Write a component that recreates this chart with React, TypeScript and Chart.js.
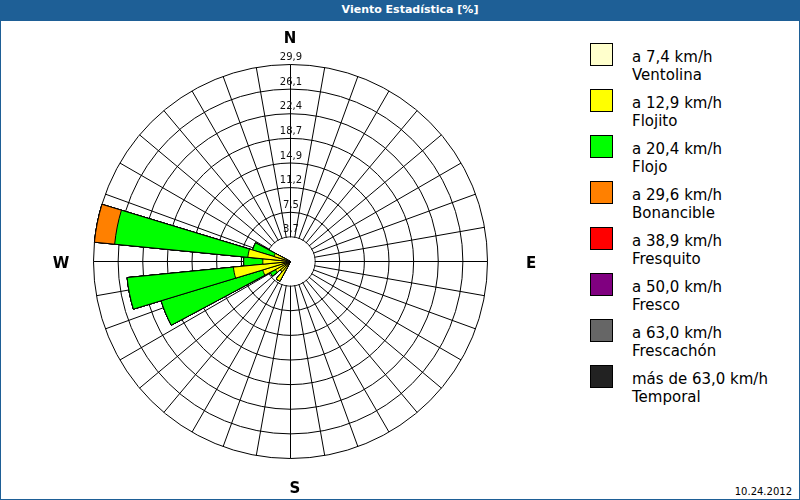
import React, { useEffect, useRef } from 'react';
import { Chart, registerables } from 'chart.js';

Chart.register(...registerables);

// 32 compass directions, clockwise from North
const directions = [
  'N', 'NbE', 'NNE', 'NEbN', 'NE', 'NEbE', 'ENE', 'EbN',
  'E', 'EbS', 'ESE', 'SEbE', 'SE', 'SEbS', 'SSE', 'SbE',
  'S', 'SbW', 'SSW', 'SWbS', 'SW', 'SWbW', 'WSW', 'WbS',
  'W', 'WbN', 'WNW', 'NWbW', 'NW', 'NWbN', 'NNW', 'NbW',
];

// 36 grid spokes (every 10 degrees)
const spokeLabels = [
  '0°', '10°', '20°', '30°', '40°', '50°', '60°', '70°', '80°',
  '90°', '100°', '110°', '120°', '130°', '140°', '150°', '160°', '170°',
  '180°', '190°', '200°', '210°', '220°', '230°', '240°', '250°', '260°',
  '270°', '280°', '290°', '300°', '310°', '320°', '330°', '340°', '350°',
];

const ringLabels = ['3,7', '7,5', '11,2', '14,9', '18,7', '22,4', '26,1', '29,9'];
const compassLabels = ['N', 'E', 'S', 'W'];
const compassSpokes = [0, 9, 18, 27];
const scaleMax = 29.88;
const ringStep = 3.735;

const classNames = [
  'a 7,4 km/h', 'a 12,9 km/h', 'a 20,4 km/h', 'a 29,6 km/h',
  'a 38,9 km/h', 'a 50,0 km/h', 'a 63,0 km/h', 'más de 63,0 km/h',
];
const classSubtitles = [
  'Ventolina', 'Flojito', 'Flojo', 'Bonancible',
  'Fresquito', 'Fresco', 'Frescachón', 'Temporal',
];
const classColors = [
  '#FFFFCC', '#FFFF00', '#00FF00', '#FF8000',
  '#FF0000', '#800080', '#666666', '#222222',
];

// percentage per direction for each wind class (not cumulative)
const ventolina = [
  0, 0, 0, 0, 0, 0, 0, 0,
  0, 0, 0, 0, 0, 0, 0, 0,
  0, 0, 0, 0.2, 0.2, 0.3, 0.4, 0.5,
  0.4, 0.5, 0.3, 0, 0, 0, 0, 0,
];
const flojito = [
  0, 0, 0, 0, 0, 0, 0, 0,
  0, 0, 0, 0, 0, 0, 0, 0,
  0, 0, 0, 3.2, 1.8, 2.3, 4.0, 8.2,
  3.8, 6.0, 2.3, 0, 0, 0, 0, 0,
];
const flojo = [
  0, 0, 0, 0, 0, 0, 0, 0,
  0, 0, 0, 0, 0, 0, 0, 0,
  0, 0, 0, 0, 0, 0.9, 16.1, 16.2,
  2.9, 20.3, 3.4, 0, 0, 0, 0, 0,
];
const bonancible = [
  0, 0, 0, 0, 0, 0, 0, 0,
  0, 0, 0, 0, 0, 0, 0, 0,
  0, 0, 0, 0, 0, 0, 0, 0,
  0, 3.08, 0, 0, 0, 0, 0, 0,
];
const fresquito = [
  0, 0, 0, 0, 0, 0, 0, 0, 0, 0, 0, 0, 0, 0, 0, 0,
  0, 0, 0, 0, 0, 0, 0, 0, 0, 0, 0, 0, 0, 0, 0, 0,
];
const fresco = [
  0, 0, 0, 0, 0, 0, 0, 0, 0, 0, 0, 0, 0, 0, 0, 0,
  0, 0, 0, 0, 0, 0, 0, 0, 0, 0, 0, 0, 0, 0, 0, 0,
];
const frescachon = [
  0, 0, 0, 0, 0, 0, 0, 0, 0, 0, 0, 0, 0, 0, 0, 0,
  0, 0, 0, 0, 0, 0, 0, 0, 0, 0, 0, 0, 0, 0, 0, 0,
];
const temporal = [
  0, 0, 0, 0, 0, 0, 0, 0, 0, 0, 0, 0, 0, 0, 0, 0,
  0, 0, 0, 0, 0, 0, 0, 0, 0, 0, 0, 0, 0, 0, 0, 0,
];

const classSeries = [ventolina, flojito, flojo, bonancible, fresquito, fresco, frescachon, temporal];

const FONT = '"DejaVu Sans", Verdana, sans-serif';

export default function App() {
  const canvasRef = useRef<HTMLCanvasElement | null>(null);

  useEffect(() => {
    const canvas = canvasRef.current;
    if (!canvas) return;

    const n = directions.length;
    // cumulative (stacked) totals for each class
    const cumulative = classSeries.map((_, k) =>
      directions.map((__, d) => classSeries.slice(0, k + 1).reduce((s, arr) => s + arr[d], 0))
    );
    // North sector is split in two halves so the sectors are centred on their direction
    const slotDir = [...directions.map((_, i) => i), 0];
    const slotAngle = (i: number) => (i === 0 || i === n ? 180 / n : 360 / n);

    const datasets = cumulative.map((vals, k) => ({
      label: classNames[k],
      data: slotDir.map((d) => vals[d]),
      backgroundColor: classColors[k],
      borderColor: '#000000',
      borderWidth: 1,
      angle: (ctx: any) => slotAngle(ctx.dataIndex),
    }));

    const crispPlugin = {
      id: 'crisp',
      beforeDraw(chart: any) {
        chart.ctx.save();
        chart.ctx.translate(0.5, 0.5);
      },
      afterDraw(chart: any) {
        chart.ctx.restore();
      },
    };

    const holePlugin = {
      id: 'innerHole',
      beforeDatasetsDraw(chart: any) {
        const scale = chart.scales.r;
        const ctx = chart.ctx;
        const r = scale.getDistanceFromCenterForValue(scale.ticks[1].value);
        ctx.save();
        ctx.beginPath();
        ctx.arc(scale.xCenter, scale.yCenter, r - 0.6, 0, Math.PI * 2);
        ctx.fillStyle = '#ffffff';
        ctx.fill();
        ctx.restore();
      },
    };

    const labelPlugin = {
      id: 'roseLabels',
      afterDatasetsDraw(chart: any) {
        const scale = chart.scales.r;
        const ctx = chart.ctx;
        ctx.save();
        ctx.font = '10px ' + FONT;
        ctx.fillStyle = '#111111';
        ctx.textAlign = 'center';
        ctx.textBaseline = 'alphabetic';
        scale.ticks.forEach((t: any, i: number) => {
          if (i === 0) return;
          const r = scale.getDistanceFromCenterForValue(t.value);
          ctx.fillText(ringLabels[i - 1], scale.xCenter + 0.5, scale.yCenter - r - 4.5);
        });
        ctx.font = 'bold 15px ' + FONT;
        ctx.fillStyle = '#000000';
        ctx.textBaseline = 'middle';
        const pads = [25, 44, 31, 32];
        const dx = [0, 0, 5, 0];
        const dy = [0, 3, 0, 3];
        compassLabels.forEach((lab, i) => {
          const p = scale.getPointPosition(compassSpokes[i], scale.drawingArea + pads[i]);
          ctx.fillText(lab, p.x + dx[i] - 0.5, p.y + dy[i] - 0.5);
        });
        ctx.restore();
      },
    };

    const chart = new Chart(canvas, {
      type: 'polarArea',
      data: { labels: spokeLabels, datasets: datasets as any },
      options: {
        responsive: false,
        animation: false,
        events: [],
        layout: { padding: { left: 93, top: 43, right: 92, bottom: 41 } },
        plugins: {
          legend: { display: false },
          tooltip: { enabled: false },
          title: { display: false },
        },
        scales: {
          r: {
            min: 0,
            max: scaleMax,
            startAngle: 0,
            ticks: { display: false, stepSize: ringStep },
            grid: { circular: true, color: '#000000', lineWidth: 1 },
            angleLines: { display: true, color: '#000000', lineWidth: 1 },
            pointLabels: { display: false },
          },
        },
      } as any,
      plugins: [crispPlugin, holePlugin, labelPlugin],
    });

    return () => chart.destroy();
  }, []);

  return (
    <div style={{ position: 'fixed', left: 0, top: 0, width: 800, height: 500, background: '#ffffff', overflow: 'hidden' }}>
      <div
        style={{
          position: 'absolute', left: 0, top: 0, width: 800, height: 21,
          background: '#1E5F96', color: '#ffffff', font: 'bold 11px ' + FONT,
          lineHeight: '20px', textAlign: 'center', paddingLeft: 20, boxSizing: 'border-box',
        }}
      >
        Viento Estadística [%]
      </div>
      <canvas ref={canvasRef} width={580} height={479} style={{ position: 'absolute', left: 0, top: 21 }} />
      {classNames.map((name, k) => (
        <div key={k} style={{ position: 'absolute', left: 590, top: 43 + k * 46 }}>
          <div
            style={{
              position: 'absolute', left: 0, top: 0, width: 23, height: 23, boxSizing: 'border-box',
              border: '1px solid #000000', background: classColors[k],
            }}
          />
          <div
            style={{
              position: 'absolute', left: 42, top: 5, font: '15px ' + FONT, lineHeight: '18px',
              whiteSpace: 'nowrap', color: '#000000',
            }}
          >
            {name}
            <br />
            {classSubtitles[k]}
          </div>
        </div>
      ))}
      <div
        style={{
          position: 'absolute', right: 8, top: 486, font: '10px ' + FONT, lineHeight: '12px',
          color: '#000000', whiteSpace: 'nowrap',
        }}
      >
        10.24.2012
      </div>
      <div
        style={{
          position: 'absolute', left: 0, top: 0, width: 800, height: 500, boxSizing: 'border-box',
          border: '1px solid #1E5F96', pointerEvents: 'none',
        }}
      />
    </div>
  );
}
